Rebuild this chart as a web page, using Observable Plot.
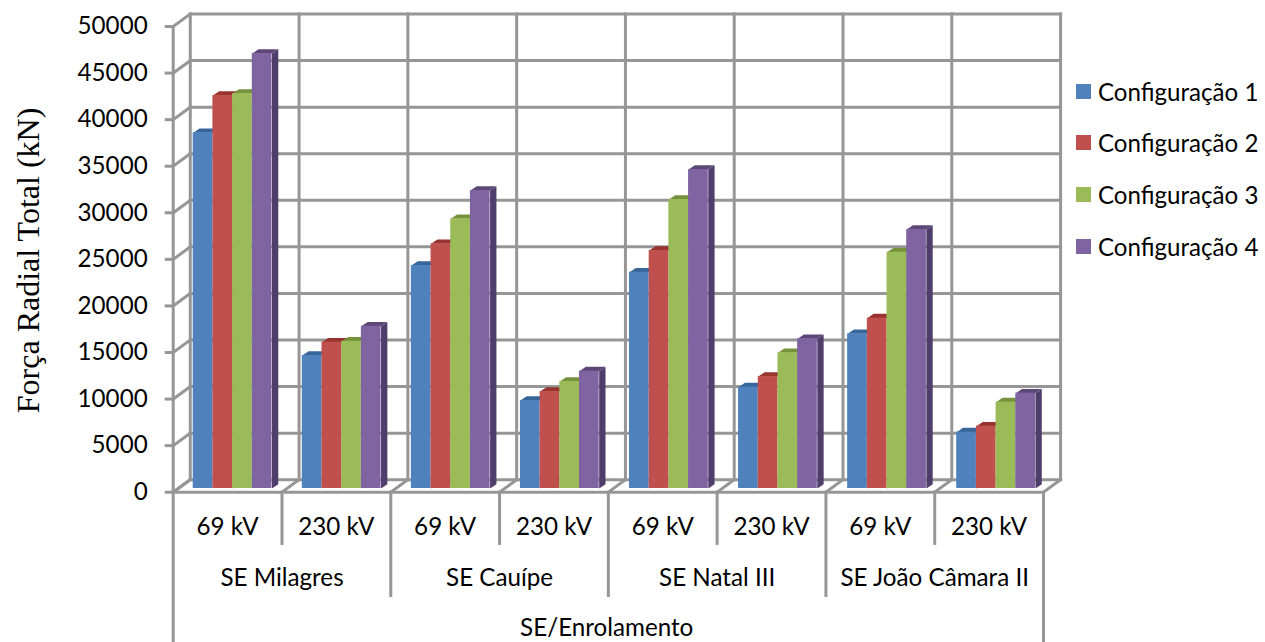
<!DOCTYPE html>
<html>
<head>
<meta charset="utf-8">
<script src="https://cdn.jsdelivr.net/npm/d3@7"></script>
<script src="https://cdn.jsdelivr.net/npm/@observablehq/plot@0.6"></script>
<style>
html,body{margin:0;padding:0;background:#fff;overflow:hidden}
#wrap{position:relative;width:1265px;height:642px}
#legend{position:absolute;left:1076px;top:65.5px;font:24.1px Lato,sans-serif;color:#000}
#legend div{display:flex;align-items:center;height:51.6px;white-space:nowrap}
#legend i{display:block;width:15px;height:15px;margin-right:7px}
svg{display:block}
</style>
</head>
<body>
<div id="wrap"></div>
<script>
const voltages = ["69 kV", "230 kV"];
const stations = ["SE Milagres", "SE Cauípe", "SE Natal III", "SE João Câmara II"];
const axisTitle = "SE/Enrolamento";
const yTitle = "Força Radial Total (kN)";
const seriesNames = ["Configuração 1", "Configuração 2", "Configuração 3", "Configuração 4"];
const config1 = [38200, 14280, 23940, 9450, 23220, 10880, 16610, 6050];
const config2 = [42200, 15710, 26270, 10410, 25550, 12020, 18290, 6690];
const config3 = [42400, 15800, 28950, 11490, 31030, 14570, 25370, 9270];
const config4 = [46700, 17420, 31990, 12600, 34250, 16070, 27810, 10230];
const frontColors = ["#4F81BD", "#C0504D", "#9BBB59", "#8064A2"];
const sideColors = ["#2F5280", "#7E3230", "#66803A", "#4F3D6B"];
const topColors = ["#38659A", "#98332F", "#76923C", "#5C4776"];
const yTicks = d3.range(0, 50001, 5000);

const allSeries = [config1, config2, config3, config4];
const grid = "#969696";
const gw = 3;
const wallX = 0.157, wallY = 1342;         // depth of the chart box, in scale units
const barStart = 0.184, barW = 0.181, barStep = 1.0026; // bars inside a category
const barBase = 397;                       // bar front plane above the box front
const sideX = 0.058, sideY = 462;          // depth of one bar
const levels = {voltage: -3790, station: -9265, title: -14640};
const ends = {voltage: -5500, station: -11090, outer: -16160};

const gridLines = [];
let id = 0;
const add = (a, b) => { id++; gridLines.push({id, x: a[0], y: a[1]}, {id, x: b[0], y: b[1]}); };
for (const v of yTicks) {
  add([0, v], [wallX, v + wallY]);
  add([wallX, v + wallY], [8 + wallX, v + wallY]);
}
for (let c = 0; c <= 8; c++) {
  add([c, 0], [c + wallX, wallY]);
  add([c + wallX, wallY], [c + wallX, 50000 + wallY]);
  const end = c === 0 || c === 8 ? ends.outer : c % 2 === 0 ? ends.station : ends.voltage;
  add([c, 0], [c, end]);
}
add([0, 0], [8, 0]);
add([0, 0], [0, 50000]);

const marks = [
  Plot.line(gridLines, {x: "x", y: "y", z: "id", stroke: grid, strokeWidth: gw, strokeLinecap: "square"})
];

allSeries.forEach((values, s) => {
  const rows = values.map((v, c) => {
    const x1 = c * barStep + barStart + s * barW, x2 = x1 + barW;
    return {c, v, x1, x2, y1: barBase, y2: barBase + v};
  });
  const side = rows.flatMap((d) => [
    {id: d.c, x: d.x2, y: d.y1}, {id: d.c, x: d.x2 + sideX, y: d.y1 + sideY},
    {id: d.c, x: d.x2 + sideX, y: d.y2 + sideY}, {id: d.c, x: d.x2, y: d.y2}
  ]);
  const top = rows.flatMap((d) => [
    {id: d.c, x: d.x1, y: d.y2}, {id: d.c, x: d.x1 + sideX, y: d.y2 + sideY},
    {id: d.c, x: d.x2 + sideX, y: d.y2 + sideY}, {id: d.c, x: d.x2, y: d.y2}
  ]);
  marks.push(
    Plot.line(side, {x: "x", y: "y", z: "id", fill: sideColors[s], stroke: "none", curve: "linear-closed"}),
    Plot.line(top, {x: "x", y: "y", z: "id", fill: topColors[s], stroke: "none", curve: "linear-closed"}),
    Plot.rect(rows, {x1: "x1", x2: "x2", y1: "y1", y2: "y2", fill: frontColors[s], inset: 0})
  );
});

const voltageRows = d3.range(8).map((c) => ({x: c + 0.5, label: voltages[c % 2]}));
const stationRows = stations.map((label, i) => ({x: 2 * i + 1, label}));
const font = {fontFamily: "Lato, sans-serif", fontSize: 24.2, fill: "#000"};
marks.push(
  Plot.axisY(yTicks, {tickSize: 8, tickPadding: 17.5, stroke: grid, strokeWidth: gw, fill: "#000", color: "#000",
    label: null, fontFamily: "Lato, sans-serif", fontSize: 24.2, tickFormat: (d) => String(d)}),
  Plot.text(voltageRows, {x: "x", y: () => levels.voltage, text: "label", ...font}),
  Plot.text(stationRows, {x: "x", y: () => levels.station, text: "label", ...font}),
  Plot.text([axisTitle], {x: () => 3.985, y: () => levels.title, text: (d) => d, ...font}),
  Plot.text([yTitle], {x: () => -1.33, y: () => 24880, text: (d) => d, rotate: -90,
    fontFamily: "Liberation Serif, serif", fontSize: 32, fill: "#000"})
);

const chart = Plot.plot({
  width: 1265,
  height: 642,
  marginLeft: 172.7,
  marginRight: 222,
  marginTop: 26,
  marginBottom: 150.3,
  x: {domain: [0, 8], axis: null},
  y: {domain: [0, 50000], axis: null},
  style: {background: "#fff", overflow: "visible"},
  marks
});
const wrap = document.getElementById("wrap");
wrap.appendChild(chart);

const legend = document.createElement("div");
legend.id = "legend";
seriesNames.forEach((name, i) => {
  const row = document.createElement("div");
  const sw = document.createElement("i");
  sw.style.background = frontColors[i];
  row.appendChild(sw);
  row.appendChild(document.createTextNode(name));
  legend.appendChild(row);
});
wrap.appendChild(legend);
</script>
</body>
</html>
